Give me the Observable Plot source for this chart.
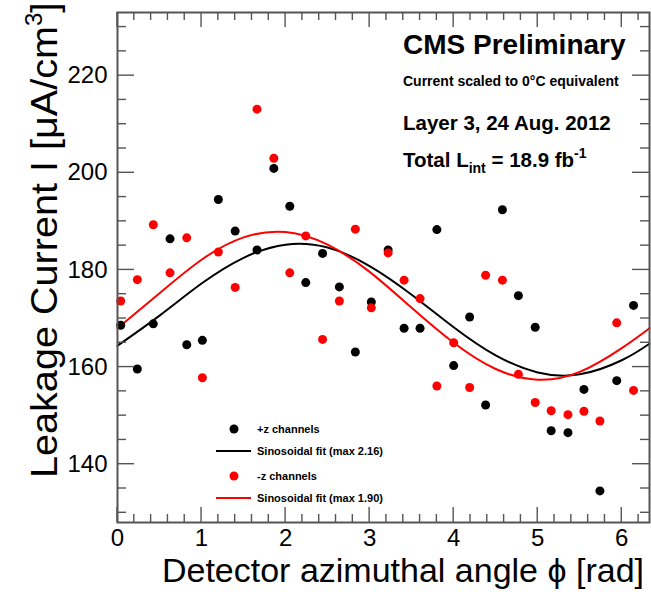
<!DOCTYPE html>
<html><head><meta charset="utf-8">
<script src="https://cdn.jsdelivr.net/npm/d3@7"></script>
<script src="https://cdn.jsdelivr.net/npm/@observablehq/plot@0.6"></script>
<style>body{margin:0;background:#fff} #chart{width:651px;height:592px;overflow:hidden}</style>
</head><body><div id="chart"></div>
<script>
// Channel azimuthal angles (rad)
const phi = [0.038, 0.236, 0.426, 0.625, 0.824, 1.01, 1.20, 1.40, 1.66, 1.86, 2.05, 2.24, 2.44, 2.64, 2.83, 3.02,
             3.22, 3.41, 3.60, 3.80, 4.00, 4.19, 4.38, 4.58, 4.77, 4.97, 5.16, 5.36, 5.55, 5.74, 5.94, 6.14];
// +z channels leakage current
const plusZ = [168.6, 159.6, 168.9, 186.4, 164.6, 165.5, 194.5, 188.0, 184.1, 200.9, 193.1, 177.4, 183.4, 176.5, 163.1, 173.4,
               184.1, 168.0, 168.0, 188.3, 160.3, 170.3, 152.2, 192.4, 174.7, 168.2, 146.9, 146.5, 155.4, 134.5, 157.2, 172.7];
// -z channels leakage current
const minusZ = [173.6, 178.0, 189.3, 179.4, 186.6, 157.8, 183.7, 176.4, 213.1, 203.0, 179.4, 187.0, 165.7, 173.6, 188.4, 172.2,
                183.5, 177.9, 174.1, 156.1, 165.0, 155.8, 178.9, 177.9, 158.5, 152.7, 151.0, 150.2, 150.9, 148.9, 169.1, 155.2];
// fit curves
const fitPhi   = [0, 0.5, 1.0, 1.5, 2.0, 2.5, 3.0, 3.5, 4.0, 4.5, 5.0, 5.5, 6.0, 6.33];
const fitPlus  = [164.4, 170.6, 177.2, 182.5, 185.2, 184.6, 180.8, 174.9, 168.2, 162.4, 158.9, 158.5, 161.4, 164.8];
const fitMinus = [168.0, 175.2, 182.1, 186.7, 187.8, 185.2, 179.6, 172.2, 165.0, 159.6, 157.4, 159.0, 163.9, 168.0];
// ticks
const xMajor = [0, 1, 2, 3, 4, 5, 6];
const xMinor = d3.range(0, 32).map(i => +(i * 0.2).toFixed(1));
const yMajor = [140, 160, 180, 200, 220];
const yMinor = d3.range(130, 235, 5);

const ptsP = phi.map((p, i) => ({phi: p, v: plusZ[i]}));
const ptsM = phi.map((p, i) => ({phi: p, v: minusZ[i]}));
const fitP = fitPhi.map((p, i) => ({phi: p, v: fitPlus[i]}));
const fitM = fitPhi.map((p, i) => ({phi: p, v: fitMinus[i]}));

const tc = "#555";
const svg = Plot.plot({
  width: 651, height: 592,
  marginLeft: 117, marginRight: 2, marginTop: 12, marginBottom: 70,
  style: {fontFamily: "'Liberation Sans', Arial, Helvetica, sans-serif", background: "#fff", color: "#000"},
  x: {domain: [0, 6.33]},
  y: {domain: [128, 233]},
  marks: [
    Plot.axisX({ticks: xMajor, tickSize: 0, tickPadding: 6, fontSize: 24, label: null, fill: "#000", tickFormat: d3.format("d")}),
    Plot.axisY({ticks: yMajor, tickSize: 0, tickPadding: 10, fontSize: 24, label: null, fill: "#000", tickFormat: d3.format("d")}),
    Plot.line(fitP, {x: "phi", y: "v", curve: "natural", stroke: "#000", strokeWidth: 2}),
    Plot.line(fitM, {x: "phi", y: "v", curve: "natural", stroke: "#f00", strokeWidth: 2}),
    Plot.dot(ptsP, {x: "phi", y: "v", r: 4.5, fill: "#000"}),
    Plot.dot(ptsM, {x: "phi", y: "v", r: 4.5, fill: "#f00"}),
    Plot.frame({stroke: tc, strokeWidth: 2})
  ]
});

const s = d3.select(svg);
const X = svg.scale("x"), Y = svg.scale("y");
const [xl, xr] = X.range, [yb, yt] = Y.range;
// inward ticks on all four sides, placed through the plot's scales
const tg = s.append("g").attr("stroke", tc).attr("stroke-width", 1.4);
xMinor.forEach(v => {
  const L = xMajor.includes(v) ? 15 : 8, px = X.apply(v);
  tg.append("line").attr("x1", px).attr("x2", px).attr("y1", yb).attr("y2", yb - L);
  tg.append("line").attr("x1", px).attr("x2", px).attr("y1", yt).attr("y2", yt + L);
});
yMinor.forEach(v => {
  const L = yMajor.includes(v) ? 17 : 9, py = Y.apply(v);
  tg.append("line").attr("y1", py).attr("y2", py).attr("x1", xl).attr("x2", xl + L);
  tg.append("line").attr("y1", py).attr("y2", py).attr("x1", xr).attr("x2", xr - L);
});

const font = "'Liberation Sans', Arial, Helvetica, sans-serif";
// axis titles
const yl = s.append("text").attr("transform", "translate(57,478) rotate(-90)").attr("text-anchor", "start")
  .attr("font-size", 36).attr("font-family", font).attr("fill", "#000");
yl.append("tspan").attr("textLength", 452).attr("lengthAdjust", "spacingAndGlyphs").text("Leakage Current I [μA/cm");
yl.append("tspan").attr("font-size", 24).attr("dy", -15).text("3");
yl.append("tspan").attr("dy", 15).text("]");
s.append("text").attr("x", 644).attr("y", 582).attr("text-anchor", "end")
  .attr("font-size", 34).attr("font-family", font).attr("fill", "#000")
  .text("Detector azimuthal angle ϕ [rad]");

// annotations
function bold(x, y, size, txt) {
  return s.append("text").attr("x", x).attr("y", y).attr("font-size", size).attr("text-anchor", "start")
    .attr("font-weight", "bold").attr("font-family", font).attr("fill", "#000").text(txt);
}
bold(403, 54, 28, "CMS Preliminary");
bold(403, 86, 14, "Current scaled to 0°C equivalent");
bold(403, 130, 20.5, "Layer 3, 24 Aug. 2012");
const tl = bold(403, 167, 20.5, "Total L");
tl.append("tspan").attr("font-size", 14).attr("dy", 6).text("int");
tl.append("tspan").attr("dy", -6).text(" = 18.9 fb");
tl.append("tspan").attr("font-size", 14).attr("dy", -9).text("-1");

// legend
const legend = [
  {type: "dot", color: "#000", label: "+z channels", y: 429},
  {type: "line", color: "#000", label: "Sinosoidal fit (max 2.16)", y: 451},
  {type: "dot", color: "#f00", label: "-z channels", y: 476},
  {type: "line", color: "#f00", label: "Sinosoidal fit (max 1.90)", y: 498}
];
legend.forEach(d => {
  if (d.type === "dot") s.append("circle").attr("cx", 234).attr("cy", d.y).attr("r", 4.5).attr("fill", d.color);
  else s.append("line").attr("x1", 216).attr("x2", 251).attr("y1", d.y).attr("y2", d.y).attr("stroke", d.color).attr("stroke-width", 2);
  bold(257, d.y + 4, 11, d.label);
});

document.getElementById("chart").appendChild(svg);
</script>
</body></html>
